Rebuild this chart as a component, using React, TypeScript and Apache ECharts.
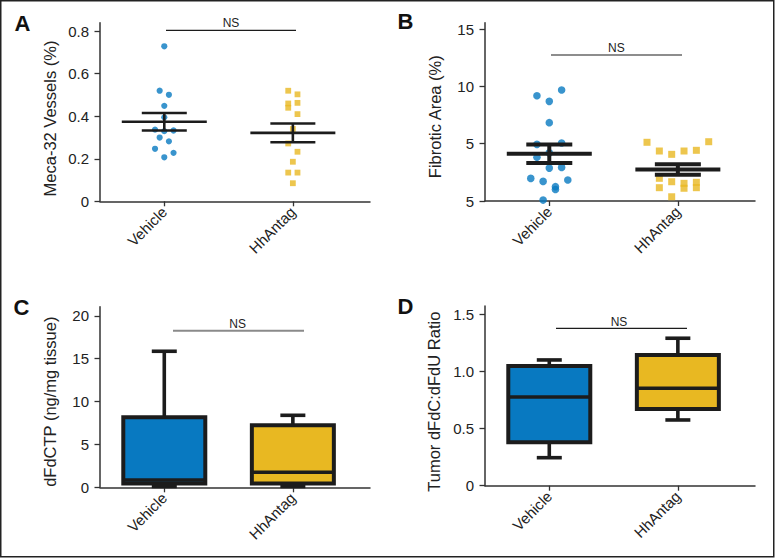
import React, { useEffect, useRef } from "react";
import * as echarts from "echarts";

const categories = ["Vehicle", "HhAntag"];

// Panel A — Meca-32 vessels (%); column = beeswarm lane index
const aVehicleValues = [0.729, 0.52, 0.501, 0.449, 0.395, 0.337, 0.33, 0.333, 0.3, 0.282, 0.247, 0.228, 0.207];
const aVehicleCols = [0, -1, 1, 0, 0, -2, 0, 2, -1, 1, -2, 2, 0];
const aHhValues = [0.52, 0.503, 0.46, 0.44, 0.463, 0.41, 0.34, 0.272, 0.233, 0.186, 0.135, 0.135, 0.085];
const aHhCols = [-1, 1, -1, -1, 1, 1, 0, -1, 1, 0, -1, 1, 0];
const aMean = [0.374, 0.322];
const aSem = [0.041, 0.044];

// Panel B — Fibrotic area (%)
const bVehicleValues = [9.68, 9.18, 8.69, 6.83, 4.94, 5.06, 3.82, 4.2, 2.87, 2.93, 1.97, 1.71, 1.25, 1.0, 1.83, 0.08];
const bVehicleCols = [2, -2, 0, 0, -2, 2, -2, 0, 0, 2, -3, -1, 1, 1, 3, -1];
const bHhValues = [5.12, 4.36, 4.07, 4.36, 4.42, 5.17, 1.98, 1.68, 1.54, 1.11, 1.63, 1.16, 1.16, 0.37];
const bHhCols = [-5, -3, -1, 1, 3, 5, -3, -1, 1, 1, 3, 3, -3, -1];
const bMean = [4.12, 2.75];
const bSem = [0.8, 0.45];

// Panel C — dFdCTP (ng/mg tissue): [min, Q1, median, Q3, max]
const cVehicleBox = [0.1, 0.45, 0.85, 8.17, 15.87];
const cHhBox = [0.1, 0.45, 1.75, 7.23, 8.4];

// Panel D — Tumor dFdC:dFdU ratio: [min, Q1, median, Q3, max]
const dVehicleBox = [0.245, 0.38, 0.776, 1.047, 1.1];
const dHhBox = [0.575, 0.671, 0.852, 1.143, 1.29];

// Axis ticks
const aTicks = [0, 0.2, 0.4, 0.6, 0.8];
const aTickLabels = ["0", "0.2", "0.4", "0.6", "0.8"];
const bTicks = [0, 5, 10, 15];
const bTickLabels = ["5", "5", "10", "15"];
const cTicks = [0, 5, 10, 15, 20];
const cTickLabels = ["0", "5", "10", "15", "20"];
const dTicks = [0, 0.5, 1, 1.5];
const dTickLabels = ["0", "0.5", "1.0", "1.5"];

const yTitles = ["Meca-32 Vessels (%)", "Fibrotic Area (%)", "dFdCTP (ng/mg tissue)", "Tumor dFdC:dFdU Ratio"];
const panelLetters = ["A", "B", "C", "D"];

const BLUE = "#0879c1";
const YELLOW = "#e8b822";
const INK = "#1c1c1c";
const FONT = "'Liberation Sans', Arial, Helvetica, sans-serif";

function buildOption() {
  const grids = [
    { left: 100, top: 22.7, width: 270, height: 178.6 },
    { left: 485, top: 22.7, width: 270, height: 178.3 },
    { left: 100, top: 306.7, width: 270, height: 180.6 },
    { left: 485, top: 306, width: 270, height: 179.7 },
  ];
  const yMax = [0.84, 15.55, 21.07, 1.572];
  const ticks = [aTicks, bTicks, cTicks, dTicks];
  const tickLabels = [aTickLabels, bTickLabels, cTickLabels, dTickLabels];

  const xAxis = grids.map((_, i) => ({
    type: "value",
    gridIndex: i,
    min: -0.5,
    max: 1.6,
    splitLine: { show: false },
    axisLine: { show: true, onZero: false, lineStyle: { color: "#333", width: 1.5 } },
    axisTick: { show: true, customValues: [0, 1], length: 5, lineStyle: { color: "#333", width: 1.3 } },
    axisLabel: {
      customValues: [0, 1],
      rotate: 45,
      margin: 8,
      fontSize: 15,
      fontFamily: FONT,
      color: "#222",
      formatter: (v: number) => categories[Math.round(v)] ?? "",
    },
  }));

  const yAxis = grids.map((_, i) => ({
    type: "value",
    gridIndex: i,
    min: 0,
    max: yMax[i],
    splitLine: { show: false },
    axisLine: { show: true, onZero: false, lineStyle: { color: "#333", width: 1.5 } },
    axisTick: { show: true, customValues: ticks[i], length: 5.5, lineStyle: { color: "#333", width: 1.3 } },
    axisLabel: {
      customValues: ticks[i],
      margin: 11,
      fontSize: 15,
      fontFamily: FONT,
      color: "#222",
      formatter: (v: number) => {
        const k = ticks[i].findIndex((t) => Math.abs(t - v) < 1e-9);
        return k >= 0 ? tickLabels[i][k] : "";
      },
    },
  }));

  const stepA = 0.036;
  const stepB = 0.048;
  const pts = (vals: number[], cols: number[], cat: number, step: number) =>
    vals.map((v, i) => [cat + cols[i] * step, v]);

  const errorBar = (gi: number, means: number[], sems: number[], meanHalf: number, semHalf: number, lw: number) => ({
    type: "custom",
    xAxisIndex: gi,
    yAxisIndex: gi,
    z: 5,
    data: means.map((m, i) => [i, m, sems[i]]),
    renderItem: (_p: any, api: any) => {
      const x = api.value(0), m = api.value(1), s = api.value(2);
      const c = api.coord([x, m]);
      const hi = api.coord([x, m + s]);
      const lo = api.coord([x, m - s]);
      const st = { stroke: INK, lineWidth: lw, lineCap: "butt" };
      return {
        type: "group",
        children: [
          { type: "line", shape: { x1: c[0], y1: hi[1], x2: c[0], y2: lo[1] }, style: st },
          { type: "line", shape: { x1: c[0] - meanHalf, y1: c[1], x2: c[0] + meanHalf, y2: c[1] }, style: st },
          { type: "line", shape: { x1: c[0] - semHalf, y1: hi[1], x2: c[0] + semHalf, y2: hi[1] }, style: st },
          { type: "line", shape: { x1: c[0] - semHalf, y1: lo[1], x2: c[0] + semHalf, y2: lo[1] }, style: st },
        ],
      };
    },
  });

  const boxSeries = (gi: number, boxes: number[][]) => ({
    type: "custom",
    xAxisIndex: gi,
    yAxisIndex: gi,
    z: 4,
    data: boxes.map((b, i) => [i, ...b]),
    renderItem: (p: any, api: any) => {
      const x = api.value(0);
      const mn = api.coord([x, api.value(1)]);
      const q1 = api.coord([x, api.value(2)]);
      const md = api.coord([x, api.value(3)]);
      const q3 = api.coord([x, api.value(4)]);
      const mx = api.coord([x, api.value(5)]);
      const half = 41;
      const cap = 12.5;
      const fill = p.dataIndex === 0 ? BLUE : YELLOW;
      const wst = { stroke: INK, lineWidth: 3.6 };
      return {
        type: "group",
        children: [
          { type: "line", shape: { x1: mx[0], y1: mx[1], x2: q3[0], y2: q3[1] }, style: wst },
          { type: "line", shape: { x1: mx[0] - cap, y1: mx[1], x2: mx[0] + cap, y2: mx[1] }, style: wst },
          { type: "line", shape: { x1: mn[0], y1: mn[1], x2: q1[0], y2: q1[1] }, style: wst },
          { type: "line", shape: { x1: mn[0] - cap, y1: mn[1], x2: mn[0] + cap, y2: mn[1] }, style: wst },
          {
            type: "rect",
            shape: { x: q3[0] - half, y: q3[1], width: half * 2, height: q1[1] - q3[1] },
            style: { fill, stroke: INK, lineWidth: 4 },
          },
          { type: "line", shape: { x1: md[0] - half, y1: md[1], x2: md[0] + half, y2: md[1] }, style: { stroke: INK, lineWidth: 3.6 } },
        ],
      };
    },
  });

  const series: any[] = [
    {
      type: "scatter", xAxisIndex: 0, yAxisIndex: 0, symbol: "circle", symbolSize: 6.2,
      itemStyle: { color: BLUE }, data: pts(aVehicleValues, aVehicleCols, 0, stepA), z: 2,
    },
    {
      type: "scatter", xAxisIndex: 0, yAxisIndex: 0, symbol: "rect", symbolSize: 5.8,
      itemStyle: { color: YELLOW }, data: pts(aHhValues, aHhCols, 1, stepA), z: 2,
    },
    errorBar(0, aMean, aSem, 42.5, 22.5, 2.6),
    {
      type: "scatter", xAxisIndex: 1, yAxisIndex: 1, symbol: "circle", symbolSize: 7.6,
      itemStyle: { color: BLUE }, data: pts(bVehicleValues, bVehicleCols, 0, stepB), z: 2,
    },
    {
      type: "scatter", xAxisIndex: 1, yAxisIndex: 1, symbol: "rect", symbolSize: 7,
      itemStyle: { color: YELLOW }, data: pts(bHhValues, bHhCols, 1, stepB), z: 2,
    },
    errorBar(1, bMean, bSem, 42.5, 23, 4),
    boxSeries(2, [cVehicleBox, cHhBox]),
    boxSeries(3, [dVehicleBox, dHhBox]),
  ];

  const titlePos = [
    [49.5, 118.5],
    [434.5, 116.7],
    [50, 401.7],
    [433.5, 401.7],
  ];
  const letterPos = [
    [14.5, 23.7],
    [397.5, 21.5],
    [13.5, 307.5],
    [397.5, 306.7],
  ];
  const nsLines = [
    { x1: 166, x2: 296, y: 30.3, ty: 22.6, tx: 231, color: INK, w: 1.2 },
    { x1: 551, x2: 682, y: 55, ty: 47.5, tx: 616.3, color: INK, w: 1.2 },
    { x1: 173, x2: 304, y: 330.7, ty: 323.5, tx: 237.7, color: "#8a8a8a", w: 2 },
    { x1: 556, x2: 687, y: 328.3, ty: 321.7, tx: 619, color: INK, w: 1.2 },
  ];

  const graphic: any[] = [
    {
      type: "rect",
      shape: { x: 0.75, y: 0.75, width: 773, height: 556 },
      style: { fill: "none", stroke: "#222", lineWidth: 1.5 },
      silent: true,
    },
  ];
  yTitles.forEach((t, i) => {
    graphic.push({
      type: "text",
      x: titlePos[i][0],
      y: titlePos[i][1],
      rotation: Math.PI / 2,
      style: { text: t, fontSize: 16.5, fontFamily: FONT, fill: "#222", align: "center", verticalAlign: "middle" },
    });
  });
  panelLetters.forEach((t, i) => {
    graphic.push({
      type: "text",
      x: letterPos[i][0],
      y: letterPos[i][1],
      style: { text: t, fontSize: 22, fontWeight: "bold", fontFamily: FONT, fill: "#111", align: "left", verticalAlign: "middle" },
    });
  });
  nsLines.forEach((n) => {
    graphic.push({
      type: "line",
      shape: { x1: n.x1, y1: n.y, x2: n.x2, y2: n.y },
      style: { stroke: n.color, lineWidth: n.w },
    });
    graphic.push({
      type: "text",
      x: n.tx,
      y: n.ty,
      style: { text: "NS", fontSize: 12, fontFamily: FONT, fill: "#222", align: "center", verticalAlign: "middle" },
    });
  });

  return {
    animation: false,
    backgroundColor: "#fff",
    grid: grids,
    xAxis,
    yAxis,
    series,
    graphic,
  };
}

export default function App() {
  const ref = useRef<HTMLDivElement>(null);
  useEffect(() => {
    document.body.style.margin = "0";
    const chart = echarts.init(ref.current as HTMLDivElement, null, { renderer: "svg" });
    chart.setOption(buildOption() as any);
    return () => chart.dispose();
  }, []);
  return <div ref={ref} style={{ width: 775, height: 558 }} />;
}
